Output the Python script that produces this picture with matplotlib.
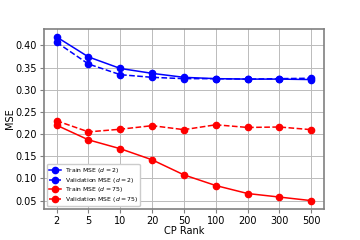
import matplotlib
matplotlib.use('Agg')
import matplotlib.pyplot as plt

ranks = ['2', '5', '10', '20', '50', '100', '200', '300', '500']
train_d2 = [0.419, 0.374, 0.348, 0.337, 0.328, 0.325, 0.324, 0.324, 0.323]
val_d2 = [0.407, 0.358, 0.334, 0.328, 0.325, 0.325, 0.324, 0.325, 0.326]
train_d75 = [0.220, 0.187, 0.167, 0.142, 0.108, 0.084, 0.066, 0.058, 0.050]
val_d75 = [0.230, 0.205, 0.211, 0.219, 0.210, 0.221, 0.215, 0.216, 0.210]

fig, ax = plt.subplots(figsize=(3.6, 2.4), dpi=100)
x = list(range(len(ranks)))
ax.plot(x, train_d2, 'b-o', lw=1.1, ms=4.5, label='Train MSE ($d=2$)')
ax.plot(x, val_d2, 'b--o', lw=1.1, ms=4.5, label='Validation MSE ($d=2$)')
ax.plot(x, train_d75, 'r-o', lw=1.1, ms=4.5, label='Train MSE ($d=75$)')
ax.plot(x, val_d75, 'r--o', lw=1.1, ms=4.5, label='Validation MSE ($d=75$)')

ax.set_xticks(x)
ax.set_xticklabels(ranks)
ax.set_xlabel('CP Rank', fontsize=7, labelpad=0)
ax.set_ylabel('MSE', fontsize=7, labelpad=0)
ax.tick_params(labelsize=7, length=3, color='gray', pad=2)
ax.grid(True, color='#bbbbbb', lw=0.7)
for s in ax.spines.values():
    s.set_color('gray')
    s.set_linewidth(1.2)
ax.legend(loc='lower left', fontsize=4.4, handlelength=2, borderpad=0.3,
          labelspacing=0.1, handletextpad=0.6, framealpha=1)

fig.subplots_adjust(left=0.122, right=0.9, top=0.88, bottom=0.13)
fig.savefig('out.png')
